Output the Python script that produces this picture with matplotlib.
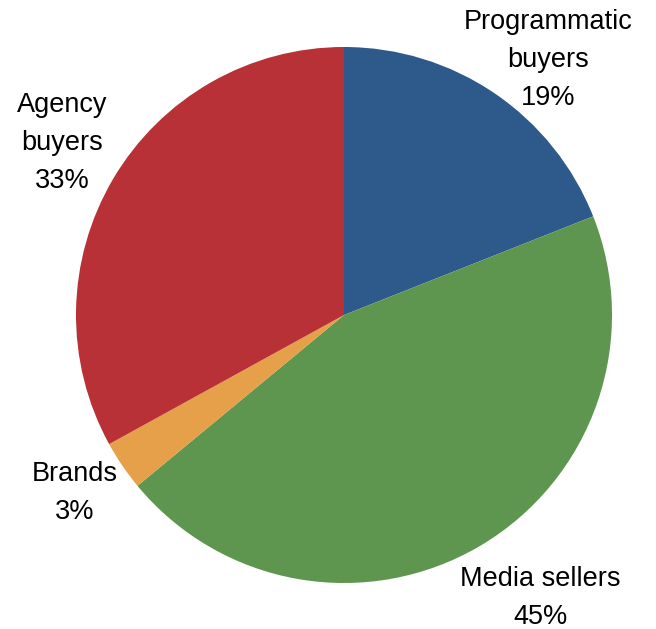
import matplotlib.pyplot as plt

labels = ["Programmatic\nbuyers", "Media sellers", "Brands", "Agency\nbuyers"]
shares = [19, 45, 3, 33]
colors = ["#2e5a8b", "#5e9650", "#e5a049", "#b83136"]
# label centres in pixels (x right, y down)
label_xy = [(548, 60), (540, 598), (75, 493), (62, 143)]

plt.rcParams["font.family"] = ["Liberation Sans", "DejaVu Sans"]

fig = plt.figure(figsize=(6.56, 6.29), dpi=100)
ax = fig.add_axes([0, 0, 1, 1])

cx, cy, r = 344, 315, 268
# y axis points down, so counterclockwise in data space is clockwise on screen
wedges, _ = ax.pie(
    shares,
    colors=colors,
    startangle=-90,
    counterclock=True,
    center=(cx, cy),
    radius=r,
    wedgeprops=dict(linewidth=0, antialiased=True),
)
ax.set_xlim(0, 656)
ax.set_ylim(629, 0)
ax.set_aspect("equal")
ax.axis("off")

for lab, pct, (x, y) in zip(labels, shares, label_xy):
    ax.text(x, y, f"{lab}\n{pct}%", ha="center", va="center",
            fontsize=19.5, linespacing=1.58)

fig.savefig("out.png", dpi=100)
